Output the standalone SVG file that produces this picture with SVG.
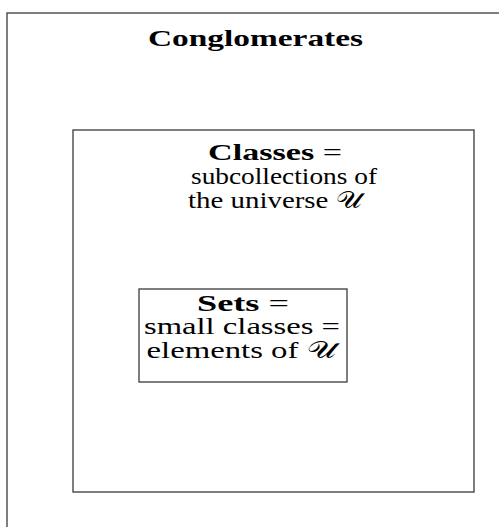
<svg xmlns="http://www.w3.org/2000/svg" width="499" height="527" viewBox="0 0 499 527">
<style>
.box{fill:none;stroke:#3a3a3a;stroke-width:1.3}
text{font-family:"Liberation Serif","DejaVu Serif",serif;font-size:23px;fill:#000;text-anchor:middle}
.t{font-size:24px}
.b{font-weight:bold}
</style>
<rect width="499" height="527" fill="#fff"/>
<g id="conglomerates">
<rect class="box" x="7" y="13" width="500" height="530"/>
<text x="255.5" y="45.5" class="b t" textLength="215" lengthAdjust="spacingAndGlyphs">Conglomerates</text>
</g>
<g id="classes">
<rect class="box" x="73" y="130" width="401" height="362"/>
<text x="275" y="160" textLength="134" lengthAdjust="spacingAndGlyphs"><tspan class="b">Classes</tspan> =</text>
<text x="284" y="184" textLength="186" lengthAdjust="spacingAndGlyphs">subcollections of</text>
<text x="275" y="208" textLength="174" lengthAdjust="spacingAndGlyphs">the universe 𝒰</text>
</g>
<g id="sets">
<rect class="box" x="139" y="289" width="208" height="93"/>
<text x="243" y="310.5" textLength="92" lengthAdjust="spacingAndGlyphs"><tspan class="b">Sets</tspan> =</text>
<text x="242" y="334" textLength="196" lengthAdjust="spacingAndGlyphs">small classes =</text>
<text x="241.5" y="357.5" textLength="190" lengthAdjust="spacingAndGlyphs">elements of 𝒰</text>
</g>
<g id="connectors"></g>
</svg>
